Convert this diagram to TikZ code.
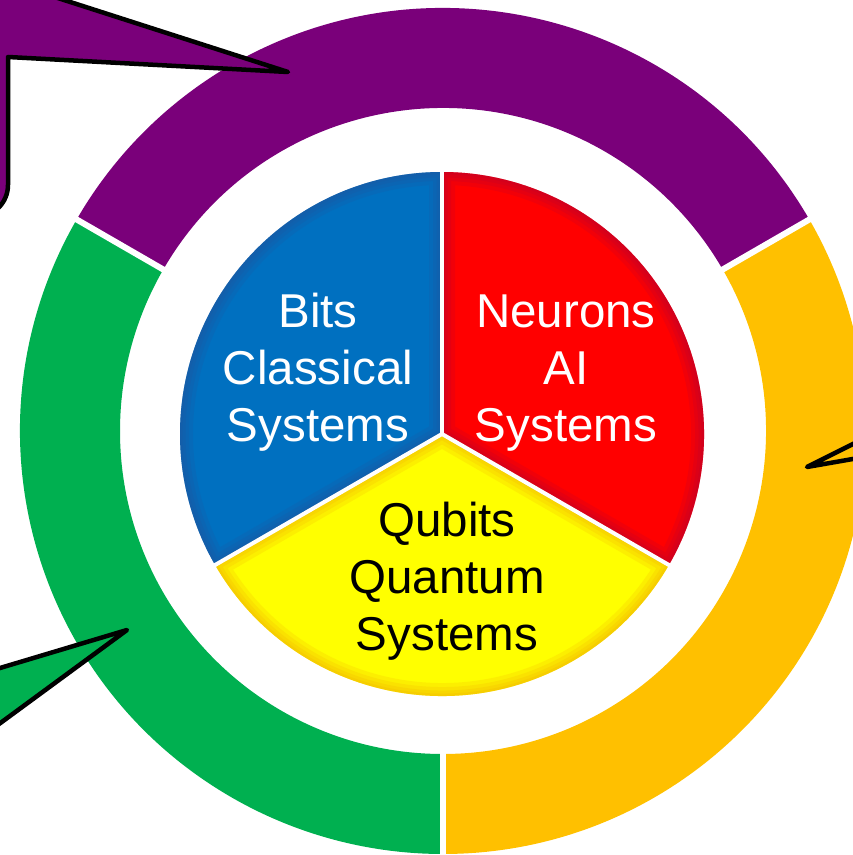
\documentclass[tikz,border=0pt]{standalone}
\usepackage{fontspec}
\setmainfont{Liberation Sans}
\definecolor{ringpurple}{RGB}{122,0,122}
\definecolor{ringgreen}{RGB}{0,176,80}
\definecolor{ringgold}{RGB}{255,192,0}
\definecolor{pieblue}{RGB}{0,112,192}
\definecolor{piered}{RGB}{255,0,0}
\definecolor{pieyellow}{RGB}{255,255,0}
\definecolor{blueshade}{RGB}{40,80,150}
\definecolor{redshade}{RGB}{170,0,60}
\definecolor{yellowshade}{RGB}{240,160,0}

% one coloured band of the outer ring, between two angles
\newcommand\ringband[3]{%
  \fill[#1] (#2:423) arc[start angle=#2,end angle=#3,radius=423]
    -- (#3:323) arc[start angle=#3,end angle=#2,radius=323] -- cycle;}

% one slice of the inner pie with a soft darker rim
\newcommand\pieslice[4]{%
  \begin{scope}
    \clip (0,0) -- (#3:262) arc[start angle=#3,end angle=#4,radius=262] -- cycle;
    \fill[#1] (0,0) circle[radius=270];
    \foreach \w in {26,18,11,5}
      \draw[#2, opacity=0.16, line width=\w pt, line join=round]
        (0,0) -- (#3:262) arc[start angle=#3,end angle=#4,radius=262] -- cycle;
  \end{scope}}

\begin{document}
\begin{tikzpicture}[x=1pt,y=1pt,
  callout/.style={draw=black, line width=4.5pt, line join=round},
  bandgap/.style={white, line width=6pt},
  slicegap/.style={white, line width=4pt},
  label/.style={font=\fontsize{47.5}{57}\selectfont, anchor=base, inner sep=0pt}]

\useasboundingbox (0,0) rectangle (853,855);
\clip (0,0) rectangle (853,855);

% outer ring
\begin{scope}[shift={(443,424)}]
  \ringband{ringpurple}{30}{150}
  \ringband{ringgreen}{150}{270}
  \ringband{ringgold}{270}{390}
  \foreach \a in {30,150,270}
    \draw[bandgap] (\a:316) -- (\a:430);
\end{scope}

% inner pie
\begin{scope}[shift={(442,421)}]
  \pieslice{pieblue}{blueshade}{90}{210}
  \pieslice{piered}{redshade}{-30}{90}
  \pieslice{pieyellow}{yellowshade}{210}{330}
  \foreach \a in {90,210,330}
    \draw[slicegap] (0,0) -- (\a:266);
\end{scope}

% speech callouts pointing into the ring
\filldraw[callout, fill=ringpurple]
  (-300,638) -- (-24,638) arc[start angle=-90,end angle=0,radius=32]
  -- (8,798) -- (288,783) -- (8,873) -- (8,950) -- (-300,950) -- cycle;
\filldraw[callout, fill=ringgreen]
  (-20,181) -- (127,225) -- (-20,117) -- (-20,-100) -- (-400,-100)
  -- (-400,400) -- (-20,400) -- cycle;
\filldraw[callout, fill=ringgold]
  (870,419.5) -- (807,388) -- (870,399) -- (870,200) -- (1200,200)
  -- (1200,700) -- (870,700) -- cycle;

% slice labels
\node[label, white] (bits1) at (318,527) {Bits};
\node[label, white] (bits2) at (318,470) {Classical};
\node[label, white] (bits3) at (318,413) {Systems};
\node[label, white] (neur1) at (566,527) {Neurons};
\node[label, white] (neur2) at (566,470) {AI};
\node[label, white] (neur3) at (566,413) {Systems};
\node[label, black] (qub1) at (447,318) {Qubits};
\node[label, black] (qub2) at (447,261) {Quantum};
\node[label, black] (qub3) at (447,204) {Systems};
\end{tikzpicture}
\end{document}
